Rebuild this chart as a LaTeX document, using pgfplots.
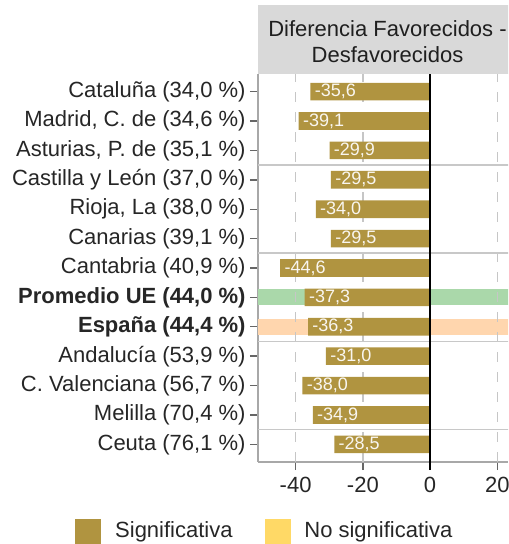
\documentclass[border=0pt]{standalone}
\usepackage{pgfplots}
\pgfplotsset{compat=1.18}
\usepackage{pgfplotstable}
\usepackage{fontspec}
\setmainfont{Liberation Sans}

\definecolor{sig}{HTML}{B09440}
\definecolor{nosig}{HTML}{FFD966}
\definecolor{ueband}{HTML}{AAD8AA}
\definecolor{esband}{HTML}{FFD6AE}
\definecolor{stripc}{HTML}{D9D9D9}
\definecolor{gridc}{HTML}{C6C6C6}
\definecolor{sepc}{HTML}{C8C8C8}
\definecolor{axc}{HTML}{A8A8A8}

% y = 14 - row (row 1 = Cataluña at top)
\pgfplotstableread{
y x label
13 -35.6 -35,6
12 -39.1 -39,1
11 -29.9 -29,9
10 -29.5 -29,5
9 -34.0 -34,0
8 -29.5 -29,5
7 -44.6 -44,6
6 -37.3 -37,3
5 -36.3 -36,3
4 -31.0 -31,0
3 -38.0 -38,0
2 -34.9 -34,9
1 -28.5 -28,5
}\diftable

\begin{document}
\begin{tikzpicture}
\useasboundingbox (-129pt,-41pt) rectangle (125pt,231pt);
\clip (-129pt,-41pt) rectangle (125pt,231pt);
\begin{axis}[
  width=125pt, height=194pt, scale only axis,
  xmin=-51.2, xmax=23.2, ymin=0.4, ymax=13.6,
  clip=false,
  axis lines=left,
  axis line style={-, axc, line width=0.75pt},
  tick align=outside,
  major tick length=4pt,
  tick style={black!60, line width=0.7pt},
  xtick={-40,-20,0,20},
  xticklabels={-40,-20,0,20},
  ytick={1,...,13},
  yticklabels={
    {Ceuta (76,1 \%)},
    {Melilla (70,4 \%)},
    {C. Valenciana (56,7 \%)},
    {Andalucía (53,9 \%)},
    {\textbf{España (44,4 \%)}},
    {\textbf{Promedio UE (44,0 \%)}},
    {Cantabria (40,9 \%)},
    {Canarias (39,1 \%)},
    {Rioja, La (38,0 \%)},
    {Castilla y León (37,0 \%)},
    {Asturias, P. de (35,1 \%)},
    {Madrid, C. de (34,6 \%)},
    {Cataluña (34,0 \%)}},
  ticklabel style={font=\fontsize{11}{13}\selectfont, text=black!85},
  yticklabel style={inner sep=0pt, xshift=-2pt},
  xticklabel style={inner sep=0pt, yshift=-3.5pt},
  legend columns=2,
  legend cell align=left,
  legend style={at={(axis description cs:-0.732,-0.1791)}, anchor=west,
    draw=none, fill=none, inner sep=0pt,
    font=\fontsize{11}{13}\selectfont, text=black!85,
    /tikz/every odd column/.append style={column sep=5pt},
    /tikz/every even column/.append style={column sep=14pt}},
]
% facet strip
\fill[stripc] (axis description cs:0,1) rectangle (axis description cs:1.04,1.178);
\node[anchor=base, font=\fontsize{11}{13}\selectfont, text=black!88]
  at (axis description cs:0.518,1.0954) {Diferencia Favorecidos -};
\node[anchor=base, font=\fontsize{11}{13}\selectfont, text=black!88]
  at (axis description cs:0.518,1.0309) {Desfavorecidos};

% highlight bands
\fill[ueband] (axis cs:-51.2,5.73) rectangle (axis cs:30,6.27);
\fill[esband] (axis cs:-51.2,4.73) rectangle (axis cs:30,5.27);

% grid
\draw[gridc, line width=0.75pt, dash pattern=on 5pt off 5pt] (axis cs:-40,0.4) -- (axis cs:-40,13.6);
\draw[gridc, line width=0.75pt, dash pattern=on 5pt off 5pt] (axis cs:-20,0.4) -- (axis cs:-20,13.6);
\draw[gridc, line width=0.75pt, dash pattern=on 5pt off 5pt] (axis cs:20,0.4) -- (axis cs:20,13.6);
% group separators
\draw[sepc, line width=0.8pt] (axis cs:-51.2,1.5) -- (axis cs:30,1.5);
\draw[sepc, line width=0.8pt] (axis cs:-51.2,4.5) -- (axis cs:30,4.5);
\draw[sepc, line width=0.8pt] (axis cs:-51.2,7.5) -- (axis cs:30,7.5);
\draw[sepc, line width=0.8pt] (axis cs:-51.2,10.5) -- (axis cs:30,10.5);

\addplot[xbar, bar width=0.6, fill=sig, draw=none, forget plot,
  nodes near coords, point meta=explicit symbolic,
  every node near coord/.append style={anchor=west, inner sep=2pt,
    font=\fontsize{9}{10}\selectfont, text=white!92!sig}]
  table[x=x, y=y, meta=label] {\diftable};

\draw[black, line width=1pt] ([yshift=-4pt]axis cs:0,0.4) -- (axis cs:0,13.6);

\addlegendimage{legend image code/.code={\fill[sig] (0pt,-6.25pt) rectangle (12.5pt,6.25pt);}}
\addlegendentry{Significativa}
\addlegendimage{legend image code/.code={\fill[nosig] (0pt,-6.25pt) rectangle (12.5pt,6.25pt);}}
\addlegendentry{No significativa}
\end{axis}
\end{tikzpicture}
\end{document}
